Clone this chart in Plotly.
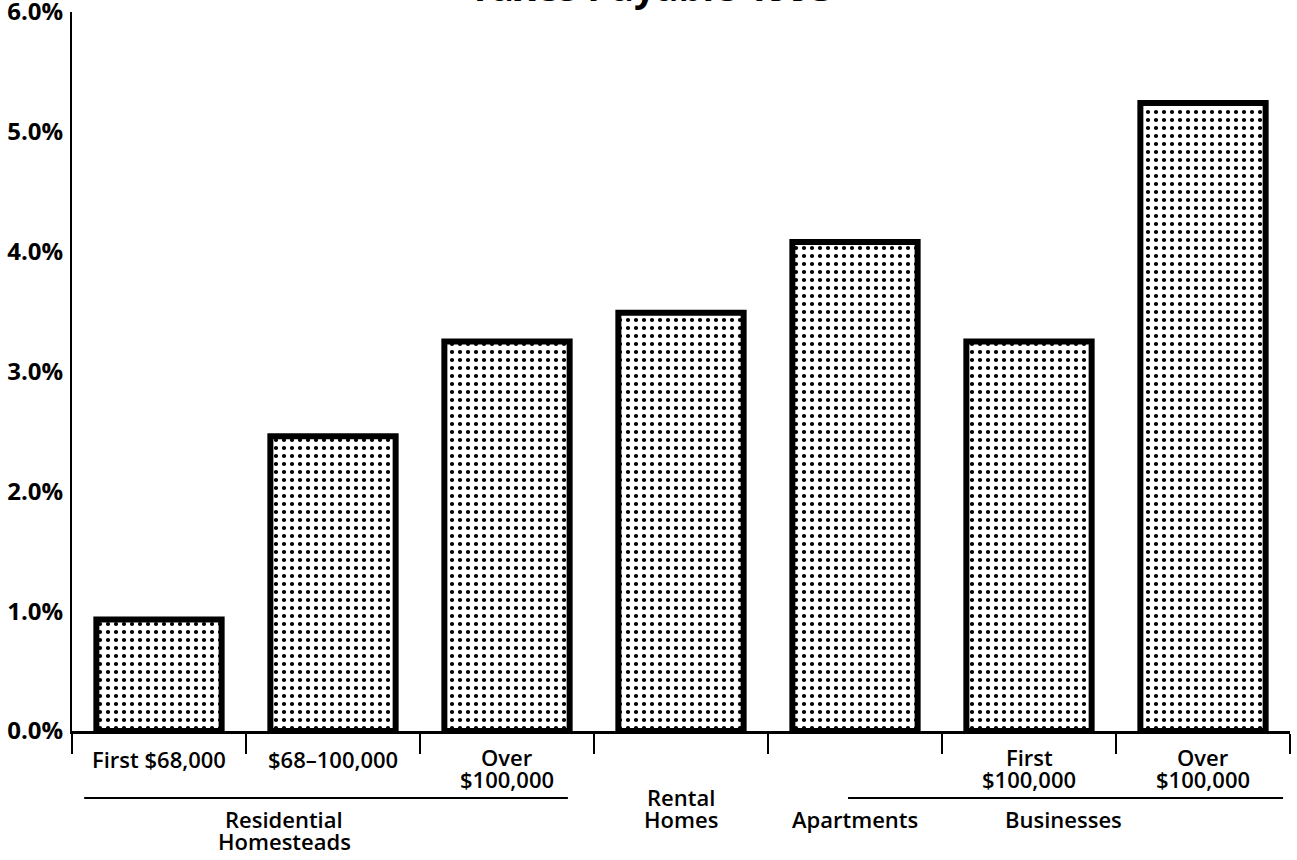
import plotly.graph_objects as go

# ---- data ----
bar_labels = ["First $68,000", "$68–100,000", "Over<br>$100,000", "Rental<br>Homes",
              "Apartments", "First<br>$100,000", "Over<br>$100,000"]
values = [0.93, 2.46, 3.25, 3.49, 4.08, 3.25, 5.24]
group_labels = ["Residential<br>Homesteads", "Businesses"]
group_members = [[0, 1, 2], [5, 6]]
y_ticks = [0, 1, 2, 3, 4, 5, 6]
y_tick_text = ["0.0%", "1.0%", "2.0%", "3.0%", "4.0%", "5.0%", "6.0%"]
title_text = "Taxes Payable 1993"

FONT = "Open Sans"
LABEL_FONT = dict(family=FONT, size=22, color="black", weight=600)
x_idx = list(range(len(values)))

fig = go.Figure()
fig.add_trace(go.Bar(
    x=x_idx, y=values, width=0.72,
    marker=dict(color="white",
                line=dict(color="black", width=6),
                pattern=dict(shape=".", size=8, solidity=0.22,
                             fgcolor="black", bgcolor="white", fillmode="replace")),
    hoverinfo="skip",
))

PLOT_BOTTOM = 731  # pixel of y=0
PLOT_TOP = 12
def yshift_for(p):
    return -(p - PLOT_BOTTOM)

annotations = []
row1 = 759
row2 = 779
for i, lab in enumerate(bar_labels):
    lines = lab.split("<br>")
    if i == 3:
        ys = [797, 819]
    elif i == 4:
        ys = [819]
    elif len(lines) == 1:
        ys = [row1]
    else:
        ys = [row1 - 2, row2]
    for line, p in zip(lines, ys):
        annotations.append(dict(x=i, y=0, xref="x", yref="y", text=line, showarrow=False,
                                yshift=yshift_for(p), xanchor="center", yanchor="middle",
                                borderpad=0, font=LABEL_FONT))

shapes = []
group_line_px = 798
group_geom = [(-0.43, 2.35), (3.96, 6.46)]
group_centers = [0.72, 5.2]
for gl, (x0, x1), cx in zip(group_labels, group_geom, group_centers):
    lines = gl.split("<br>")
    ys = [819, 841][:len(lines)]
    for line, p in zip(lines, ys):
        annotations.append(dict(x=cx, y=0, xref="x", yref="y", text=line, showarrow=False,
                                yshift=yshift_for(p), xanchor="center", yanchor="middle",
                                borderpad=0, font=LABEL_FONT))
    yp = -(group_line_px - PLOT_BOTTOM) / (PLOT_BOTTOM - PLOT_TOP)
    shapes.append(dict(type="line", xref="x", yref="paper", x0=x0, x1=x1, y0=yp, y1=yp,
                       line=dict(color="black", width=2)))

# title (mostly cut off at the top, as in the reference)
annotations.append(dict(x=0.475, y=1, xref="paper", yref="paper", text=f"<b>{title_text}</b>",
                        showarrow=False, xanchor="center", yanchor="bottom", yshift=-2,
                        font=dict(family=FONT, size=38, color="black")))

fig.update_layout(
    width=1297, height=860,
    margin=dict(l=72, r=7, t=PLOT_TOP, b=860 - PLOT_BOTTOM, autoexpand=False),
    paper_bgcolor="white", plot_bgcolor="white",
    showlegend=False,
    annotations=annotations,
    shapes=shapes,
    xaxis=dict(range=[-0.5, 6.5], tickmode="array",
               tickvals=[i - 0.5 for i in range(len(values) + 1)],
               ticktext=[""] * (len(values) + 1),
               ticks="outside", ticklen=20, tickwidth=2, tickcolor="black",
               showline=True, linecolor="black", linewidth=3, automargin=False,
               showgrid=False, zeroline=False, fixedrange=True),
    yaxis=dict(range=[0, 6], tickmode="array", tickvals=y_ticks, ticktext=y_tick_text,
               ticks="", showline=True, linecolor="black", linewidth=2,
               showgrid=False, zeroline=False, ticklabelshift=0, ticklabelstandoff=2,
               ticklabeloverflow="allow", automargin=False,
               tickfont=dict(family=FONT, size=24, color="black", weight="bold"),
               fixedrange=True),
)

fig.write_html("out.html")
